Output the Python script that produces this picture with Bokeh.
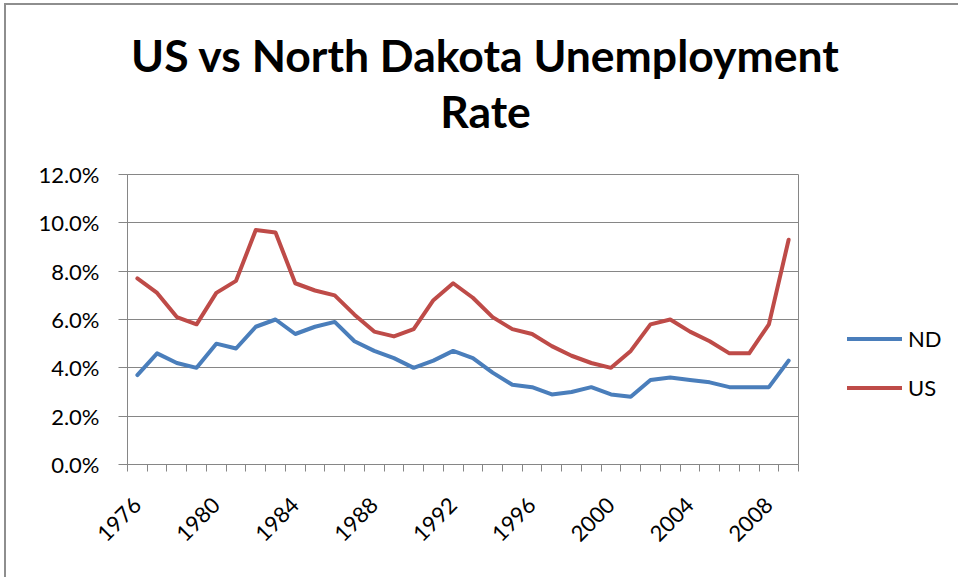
from bokeh.plotting import figure
from bokeh.layouts import column, row
from bokeh.models import Range1d, FixedTicker, PrintfTickFormatter, Label, Legend, LegendItem
from bokeh.embed import file_html
from bokeh.resources import INLINE

# ---- data ----
years = [1976, 1977, 1978, 1979, 1980, 1981, 1982, 1983, 1984, 1985, 1986, 1987,
         1988, 1989, 1990, 1991, 1992, 1993, 1994, 1995, 1996, 1997, 1998, 1999,
         2000, 2001, 2002, 2003, 2004, 2005, 2006, 2007, 2008, 2009]
nd = [3.7, 4.6, 4.2, 4.0, 5.0, 4.8, 5.7, 6.0, 5.4, 5.7, 5.9, 5.1,
      4.7, 4.4, 4.0, 4.3, 4.7, 4.4, 3.8, 3.3, 3.2, 2.9, 3.0, 3.2,
      2.9, 2.8, 3.5, 3.6, 3.5, 3.4, 3.2, 3.2, 3.2, 4.3]
us = [7.7, 7.1, 6.1, 5.8, 7.1, 7.6, 9.7, 9.6, 7.5, 7.2, 7.0, 6.2,
      5.5, 5.3, 5.6, 6.8, 7.5, 6.9, 6.1, 5.6, 5.4, 4.9, 4.5, 4.2,
      4.0, 4.7, 5.8, 6.0, 5.5, 5.1, 4.6, 4.6, 5.8, 9.3]
x_tick_years = [1976, 1980, 1984, 1988, 1992, 1996, 2000, 2004, 2008]
y_ticks = [0, 2, 4, 6, 8, 10, 12]
title_lines = ["US vs North Dakota Unemployment", "Rate"]
series_names = ["ND", "US"]

BLUE = "#4A7EBB"
RED = "#BE4B48"
GRAY = "#868686"
EDGE = "#8E8E8E"
FONT = "Lato"

W = 952
TITLE_H = 145
MAIN_H = 427
MAIN_W = 794
LEG_W = W - MAIN_W

# ---- title strip ----
pt = figure(width=W, height=TITLE_H, output_backend="svg", toolbar_location=None, title=None,
            x_range=Range1d(0, W), y_range=Range1d(TITLE_H, 0), min_border=0)
pt.axis.visible = False
pt.grid.grid_line_color = None
pt.outline_line_color = None
pt.border_fill_color = "white"
pt.add_layout(Label(x=479, y=49, text=title_lines[0], text_align="center",
                    text_baseline="alphabetic", text_font=FONT, text_font_style="bold",
                    text_font_size="44.5px", text_color="black"))
pt.add_layout(Label(x=479, y=104.5, text=title_lines[1], text_align="center",
                    text_baseline="alphabetic", text_font=FONT, text_font_style="bold",
                    text_font_size="44.5px", text_color="black"))

# ---- main chart ----
p = figure(width=MAIN_W, height=MAIN_H, output_backend="svg", toolbar_location=None, title=None,
           x_range=Range1d(years[0] - 0.5, years[-1] + 0.5), y_range=Range1d(y_ticks[0], y_ticks[-1]),
           min_border_left=121, min_border_right=2, min_border_top=24, min_border_bottom=113)
p.outline_line_color = GRAY
p.background_fill_color = "white"
p.border_fill_color = "white"

# y axis
p.yaxis.ticker = FixedTicker(ticks=y_ticks)
p.yaxis.formatter = PrintfTickFormatter(format="%.1f%%")
p.yaxis.axis_line_color = GRAY
p.yaxis.major_tick_line_color = GRAY
p.yaxis.major_tick_in = 0
p.yaxis.major_tick_out = 9
p.yaxis.minor_tick_line_color = None
p.yaxis.major_label_standoff = 19
p.yaxis.major_label_text_font = FONT
p.yaxis.major_label_text_font_size = "22px"
p.yaxis.major_label_text_color = "black"

# x axis
boundaries = [y - 0.5 for y in years] + [years[-1] + 0.5]
p.xaxis.ticker = FixedTicker(ticks=x_tick_years, minor_ticks=boundaries)
p.xaxis.major_label_overrides = {y: str(y) for y in x_tick_years}
p.xaxis.axis_line_color = GRAY
p.xaxis.major_tick_line_color = None
p.xaxis.minor_tick_line_color = GRAY
p.xaxis.minor_tick_in = 0
p.xaxis.minor_tick_out = 7
p.xaxis.major_label_orientation = 0.785398
p.xaxis.major_label_standoff = 30
p.xaxis.major_label_text_font = FONT
p.xaxis.major_label_text_font_size = "22px"
p.xaxis.major_label_text_color = "black"

p.xgrid.grid_line_color = None
p.ygrid.ticker = FixedTicker(ticks=y_ticks)
p.ygrid.grid_line_color = GRAY
p.ygrid.grid_line_width = 1

p.line(years, nd, line_color=BLUE, line_width=4, line_join="round", line_cap="round")
p.line(years, us, line_color=RED, line_width=4, line_join="round", line_cap="round")

# ---- legend strip ----
pl = figure(width=LEG_W, height=MAIN_H, output_backend="svg", toolbar_location=None, title=None,
            x_range=Range1d(0, LEG_W), y_range=Range1d(MAIN_H, 0), min_border=0)
pl.axis.visible = False
pl.grid.grid_line_color = None
pl.outline_line_color = None
pl.border_fill_color = "white"
nan = float("nan")
k_nd = pl.line([nan], [nan], line_color=BLUE, line_width=4, line_cap="round")
k_us = pl.line([nan], [nan], line_color=RED, line_width=4, line_cap="round")
legend = Legend(items=[LegendItem(label=series_names[0], renderers=[k_nd]),
                       LegendItem(label=series_names[1], renderers=[k_us])],
                location=(47, 63), orientation="vertical",
                glyph_width=55, glyph_height=27, label_height=27, label_standoff=6,
                spacing=22, padding=0, margin=0,
                border_line_color=None, background_fill_alpha=0,
                label_text_font=FONT, label_text_font_size="22px", label_text_color="black")
pl.add_layout(legend, "center")

layout = column(pt, row(p, pl, spacing=0), spacing=0)
layout.styles = {"margin-left": "4px", "margin-top": "3px",
                 "border-left": "2px solid " + EDGE, "border-top": "2px solid " + EDGE}
open("out.html", "w").write(file_html(layout, INLINE))
